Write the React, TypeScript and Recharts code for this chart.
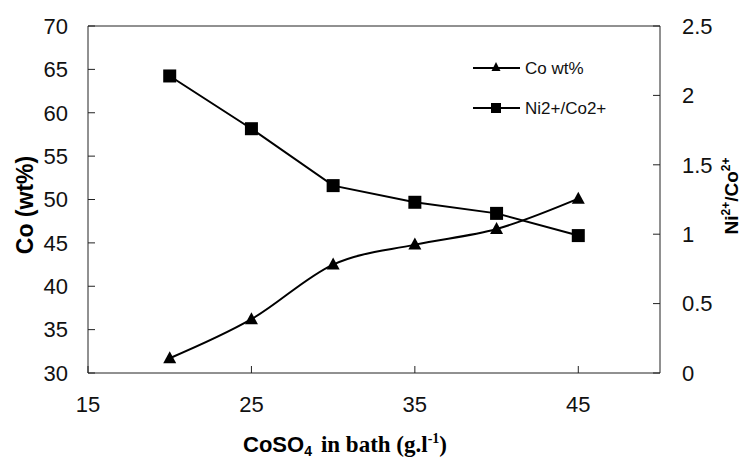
import React from 'react';
import { LineChart, Line, XAxis, YAxis, Legend, ReferenceLine } from 'recharts';

const coSO4 = [20, 25, 30, 35, 40, 45];
const coWt = [31.7, 36.2, 42.5, 44.8, 46.6, 50.1];
const niCoRatio = [2.14, 1.76, 1.35, 1.23, 1.15, 0.99];
const xTicks = [15, 25, 35, 45];
const leftTicks = [30, 35, 40, 45, 50, 55, 60, 65, 70];
const rightTicks = [0, 0.5, 1, 1.5, 2, 2.5];

const data = coSO4.map((x, i) => ({ x, co: coWt[i], ratio: niCoRatio[i] }));

const SANS = '"Liberation Sans", Arial, sans-serif';
const SERIF = '"Liberation Serif", "Times New Roman", serif';
const tickStyle = { fontSize: 22, fill: '#111', fontFamily: SANS };

const Triangle = (props: any) => {
  const { cx, cy } = props;
  if (cx == null || cy == null) return null;
  return <path d={`M${cx},${cy - 7}L${cx + 6.5},${cy + 5}L${cx - 6.5},${cy + 5}Z`} fill="#000" />;
};

const Square = (props: any) => {
  const { cx, cy } = props;
  if (cx == null || cy == null) return null;
  return <rect x={cx - 6.5} y={cy - 6.5} width={13} height={13} fill="#000" />;
};

const XLabel = () => (
  <text x={243} y={452} fill="#000" fontWeight="bold">
    <tspan fontFamily={SANS} fontSize={22}>CoSO</tspan>
    <tspan fontFamily={SANS} fontSize={14} dy={4}>4</tspan>
    <tspan fontFamily={SERIF} fontSize={23} dy={-4} dx={9}>in bath (g.l</tspan>
    <tspan fontFamily={SERIF} fontSize={14} dy={-9}>-1</tspan>
    <tspan fontFamily={SERIF} fontSize={23} dy={9}>)</tspan>
  </text>
);

const LeftLabel = () => (
  <text
    x={33}
    y={205}
    transform="rotate(-90, 33, 205)"
    textAnchor="middle"
    fontFamily={SANS}
    fontWeight="bold"
    fontSize={23}
    fill="#000"
  >
    Co (wt%)
  </text>
);

const RightLabel = () => (
  <text
    x={738}
    y={196}
    transform="rotate(-90, 738, 196)"
    textAnchor="middle"
    fontFamily={SANS}
    fontWeight="bold"
    fontSize={19}
    fill="#000"
  >
    <tspan>Ni</tspan>
    <tspan fontSize={12} dy={-8}>2+</tspan>
    <tspan dy={8}>/Co</tspan>
    <tspan fontSize={12} dy={-8}>2+</tspan>
  </text>
);

const LegendContent = (props: any) => {
  const items = [
    { name: 'Co wt%', key: 'co' },
    { name: 'Ni2+/Co2+', key: 'ratio' },
  ];
  const payload = props.payload && props.payload.length ? props.payload : null;
  const rows = payload
    ? payload.map((p: any) => ({ name: p.value, key: p.dataKey }))
    : items;
  return (
    <svg width={200} height={70}>
      {rows.map((r: any, i: number) => {
        const y = 13 + i * 40;
        return (
          <g key={r.key}>
            <line x1={3} x2={50} y1={y} y2={y} stroke="#000" strokeWidth={2} />
            {r.key === 'co' ? (
              <path d={`M26,${y - 6}L30.5,${y + 3}L21.5,${y + 3}Z`} fill="#000" />
            ) : (
              <rect x={21} y={y - 5} width={10} height={10} fill="#000" />
            )}
            <text x={55} y={y} dy="0.36em" fontFamily={SANS} fontSize={17} fill="#111">
              {r.name}
            </text>
          </g>
        );
      })}
    </svg>
  );
};

export default function App() {
  return (
    <div style={{ position: 'absolute', left: 0, top: 0 }}>
      <LineChart width={742} height={459} data={data} margin={{ top: 26, right: 0, bottom: 0, left: 0 }}>
        <XAxis
          dataKey="x"
          type="number"
          domain={[15, 50]}
          ticks={xTicks}
          interval={0}
          height={86}
          tickSize={-7}
          tickMargin={30}
          tick={tickStyle}
          axisLine={{ stroke: '#222' }}
          tickLine={{ stroke: '#222' }}
          label={<XLabel />}
        />
        <YAxis
          yAxisId="left"
          orientation="left"
          domain={[30, 70]}
          ticks={leftTicks}
          interval={0}
          width={88}
          tickSize={-7}
          tickMargin={27}
          tick={tickStyle}
          axisLine={{ stroke: '#222' }}
          tickLine={{ stroke: '#222' }}
          label={<LeftLabel />}
        />
        <YAxis
          yAxisId="right"
          orientation="right"
          domain={[0, 2.5]}
          ticks={rightTicks}
          interval={0}
          width={82}
          tickSize={-7}
          tickMargin={29}
          tick={tickStyle}
          axisLine={{ stroke: '#222' }}
          tickLine={{ stroke: '#222' }}
          label={<RightLabel />}
        />
        <ReferenceLine yAxisId="left" y={70} stroke="#222" />
        <Legend
          layout="horizontal"
          verticalAlign="middle"
          align="center"
          content={<LegendContent />}
          wrapperStyle={{ position: 'absolute', left: 470, top: 55, width: 200, height: 70 }}
        />
        <Line
          yAxisId="left"
          dataKey="co"
          name="Co wt%"
          type="monotone"
          stroke="#000"
          strokeWidth={2}
          dot={<Triangle />}
          activeDot={false}
          isAnimationActive={false}
        />
        <Line
          yAxisId="right"
          dataKey="ratio"
          name="Ni2+/Co2+"
          type="linear"
          stroke="#000"
          strokeWidth={2}
          dot={<Square />}
          activeDot={false}
          isAnimationActive={false}
        />
      </LineChart>
    </div>
  );
}
